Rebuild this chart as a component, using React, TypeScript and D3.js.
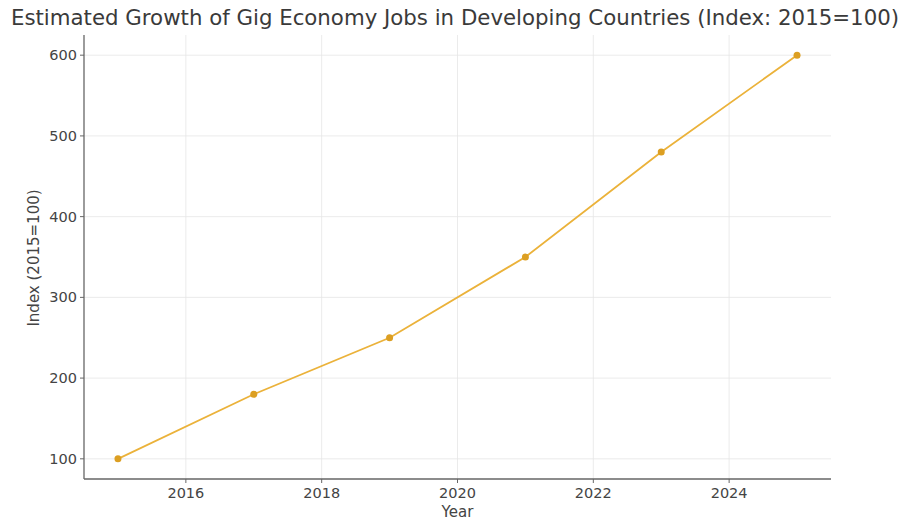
import React from "react";
import * as d3 from "d3";

const years = [2015, 2017, 2019, 2021, 2023, 2025];
const indexValues = [100, 180, 250, 350, 480, 600];
const xTicks = [2016, 2018, 2020, 2022, 2024];
const yTicks = [100, 200, 300, 400, 500, 600];

const W = 905;
const H = 522;
const m = { left: 84, right: 831, top: 35, bottom: 479 };

export default function App() {
  const x = d3.scaleLinear().domain([2014.5, 2025.5]).range([m.left, m.right]);
  const y = d3.scaleLinear().domain([75, 625]).range([m.bottom, m.top]);
  const pts = years.map((yr, i) => [yr, indexValues[i]] as [number, number]);
  const line = d3.line<[number, number]>().x((d) => x(d[0])).y((d) => y(d[1]));
  const font = "DejaVu Sans, sans-serif";
  return (
    <svg
      width={W}
      height={H}
      style={{ position: "absolute", left: 0, top: 0, background: "#fff" }}
      fontFamily={font}
    >
      <text x={455} y={25} textAnchor="middle" fontSize={21.3} fill="#3a3a3a">
        Estimated Growth of Gig Economy Jobs in Developing Countries (Index: 2015=100)
      </text>
      {xTicks.map((t) => (
        <line key={"gx" + t} x1={x(t)} x2={x(t)} y1={m.top} y2={m.bottom} stroke="#e6e6e6" strokeWidth={0.8} />
      ))}
      {yTicks.map((t) => (
        <line key={"gy" + t} x1={m.left} x2={m.right} y1={y(t)} y2={y(t)} stroke="#e6e6e6" strokeWidth={0.8} />
      ))}
      <line x1={m.left} x2={m.left} y1={m.top} y2={m.bottom} stroke="#666" strokeWidth={1.3} />
      <line x1={m.left} x2={m.right} y1={m.bottom} y2={m.bottom} stroke="#666" strokeWidth={1.3} />
      {xTicks.map((t) => (
        <g key={"tx" + t}>
          <line x1={x(t)} x2={x(t)} y1={m.bottom} y2={m.bottom + 4} stroke="#666" />
          <text x={x(t)} y={m.bottom + 19} textAnchor="middle" fontSize={14.5} fill="#444">
            {t}
          </text>
        </g>
      ))}
      {yTicks.map((t) => (
        <g key={"ty" + t}>
          <line x1={m.left - 4} x2={m.left} y1={y(t)} y2={y(t)} stroke="#666" />
          <text x={m.left - 7} y={y(t) + 5} textAnchor="end" fontSize={14.5} fill="#444">
            {t}
          </text>
        </g>
      ))}
      <text x={(m.left + m.right) / 2} y={517} textAnchor="middle" fontSize={15} fill="#444">
        Year
      </text>
      <text
        transform={`translate(39,258) rotate(-90)`}
        textAnchor="middle"
        fontSize={15}
        fill="#444"
      >
        Index (2015=100)
      </text>
      <path d={line(pts) || ""} fill="none" stroke="#ebb23a" strokeWidth={1.8} />
      {pts.map((p) => (
        <circle key={"c" + p[0]} cx={x(p[0])} cy={y(p[1])} r={3.5} fill="#dc9f22" />
      ))}
    </svg>
  );
}
